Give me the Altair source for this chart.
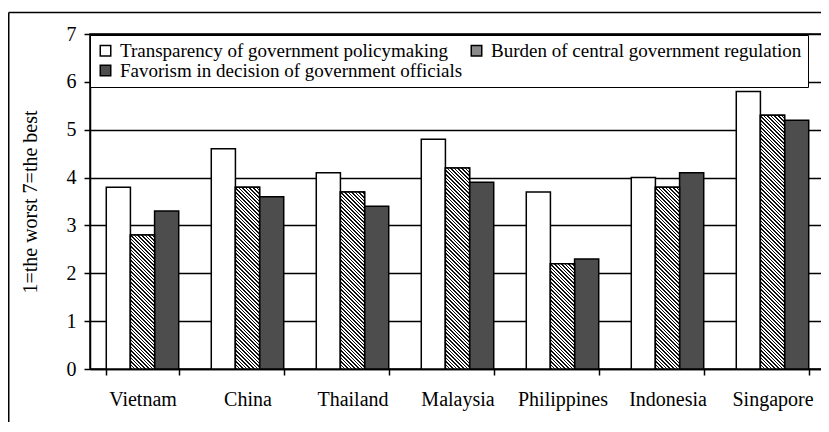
import math
import altair as alt
import pandas as pd

countries = ["Vietnam", "China", "Thailand", "Malaysia", "Philippines", "Indonesia", "Singapore"]
series = [
    "Transparency of government policymaking",
    "Burden of central government regulation",
    "Favorism in decision of government officials",
]
transparency = [3.8, 4.6, 4.1, 4.8, 3.7, 4.0, 5.8]
burden = [2.8, 3.8, 3.7, 4.2, 2.2, 3.8, 5.3]
favorism = [3.3, 3.6, 3.4, 3.9, 2.3, 4.1, 5.2]
y_ticks = [0, 1, 2, 3, 4, 5, 6, 7]

W, H = 735, 335
PAD_L, PAD_T = 82, 26
TOTAL_W, TOTAL_H = 813, 414
FONT = "Liberation Serif"

rows = []
for name, vals in zip(series, [transparency, burden, favorism]):
    for c, v in zip(countries, vals):
        rows.append({"country": c, "series": name, "value": v})
df = pd.DataFrame(rows)

# hatch fill (diagonal lines) built as an SVG linear gradient per bar
bar_w = W / 7 * (1 - 0.31) / 3
px_per_unit = H / 7


def hatch(v, period=3.6, frac=0.45):
    h = v * px_per_unit
    w = bar_w
    k = (w + h) / (w * w + h * h)
    n = (w + h) / period
    stops = []
    i = 0
    while i / n < 1:
        a = i / n
        b = min((i + frac) / n, 1)
        c = min((i + 1) / n, 1)
        stops += [
            {"offset": a, "color": "#111111"},
            {"offset": b, "color": "#111111"},
            {"offset": b, "color": "#ffffff"},
            {"offset": c, "color": "#ffffff"},
        ]
        i += 1
    return {"gradient": "linear", "x1": 0, "y1": 1, "x2": k * w, "y2": 1 - k * h, "stops": stops}


hdf = pd.DataFrame(
    [{"country": c, "series": series[1], "value": v, "grad": hatch(v)} for c, v in zip(countries, burden)]
)

x_enc = alt.X(
    "country:N",
    sort=countries,
    scale=alt.Scale(paddingInner=0.31, paddingOuter=0.155),
    axis=alt.Axis(
        title=None,
        labelAngle=0,
        labelFont=FONT,
        labelFontSize=20,
        labelColor="black",
        labelPadding=14,
        tickBand="extent",
        tickColor="black",
        tickSize=6,
        tickWidth=1.5,
        domainColor="black",
        domainWidth=1.5,
        grid=False,
    ),
)
xo_enc = alt.XOffset("series:N", scale=alt.Scale(domain=series, paddingInner=0, paddingOuter=0))
y_enc = alt.Y(
    "value:Q",
    scale=alt.Scale(domain=[0, 7], nice=False),
    axis=alt.Axis(
        values=y_ticks,
        title="1=the worst 7=the best",
        titleFont=FONT,
        titleFontSize=20,
        titleFontWeight="normal",
        titleColor="black",
        titlePadding=26,
        labelFont=FONT,
        labelFontSize=20,
        labelColor="black",
        labelPadding=8,
        tickColor="black",
        tickSize=6,
        tickWidth=1.5,
        domainColor="black",
        domainWidth=1.5,
        grid=True,
        gridColor="black",
        gridWidth=1.3,
    ),
)

base = alt.Chart(df).mark_bar(stroke="black", strokeWidth=1.5).encode(
    x=x_enc,
    xOffset=xo_enc,
    y=y_enc,
    fill=alt.Fill(
        "series:N",
        scale=alt.Scale(domain=series, range=["#ffffff", "#8a8a8a", "#4d4d4d"]),
        legend=alt.Legend(
            title=None,
            orient="none",
            legendX=0,
            legendY=1,
            direction="horizontal",
            columns=2,
            columnPadding=4,
            rowPadding=-4,
            padding=6,
            symbolOffset=0,
            symbolType="square",
            symbolSize=110,
            symbolStrokeColor="black",
            symbolStrokeWidth=1.5,
            labelFont=FONT,
            labelFontSize=19,
            labelColor="black",
            labelOffset=5,
            labelLimit=500,
            strokeColor="black",
            fillColor="white",
        ),
    ),
)

hatch_layer = alt.Chart(hdf).mark_bar(stroke="black", strokeWidth=1.5).encode(
    x=alt.X("country:N", sort=countries),
    xOffset=xo_enc,
    y=alt.Y("value:Q"),
    fill=alt.Fill("grad:N", scale=None),
)

one = pd.DataFrame({"a": [0]})
frame_top = alt.Chart(one).mark_rule(color="black", strokeWidth=1.5).encode(
    x=alt.value(-PAD_L + 0.75), x2=alt.value(W + 20), y=alt.value(-21.5)
)
frame_left = alt.Chart(one).mark_rule(color="black", strokeWidth=1.5).encode(
    x=alt.value(-PAD_L + 0.75), y=alt.value(-21.5), y2=alt.value(H + 120)
)

chart = (
    alt.layer(base, hatch_layer, frame_top, frame_left)
    .properties(
        width=W,
        height=H,
        autosize=alt.AutoSizeParams(type="none"),
        padding={"left": PAD_L, "top": PAD_T, "right": TOTAL_W - PAD_L - W, "bottom": TOTAL_H - PAD_T - H},
        background="white",
    )
    .configure(font=FONT)
    .configure_legend(labelFont=FONT, labelFontSize=19, labelColor="black")
    .configure_view(stroke="black", strokeWidth=1.5)
)

chart.save("out.html", embed_options={"renderer": "svg", "actions": False})
